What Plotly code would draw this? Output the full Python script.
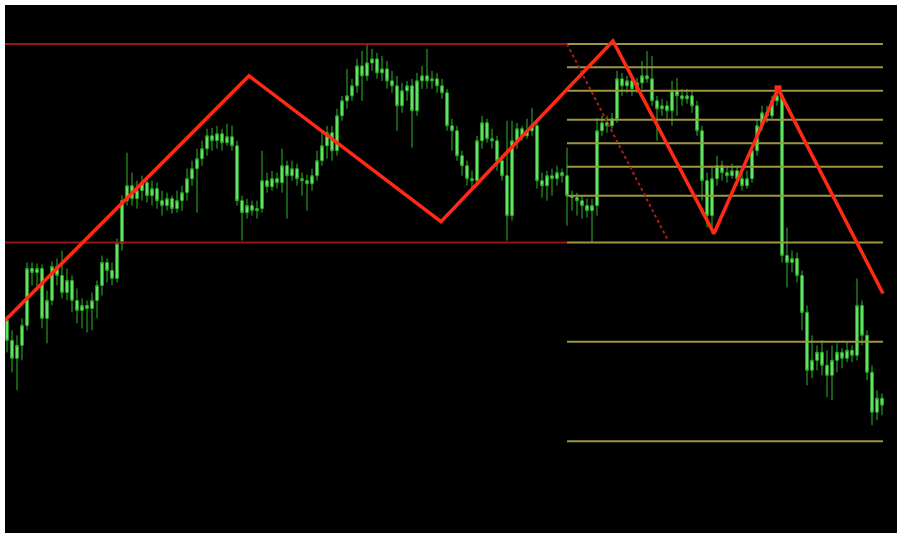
import plotly.graph_objects as go

# ---- candle data (arbitrary price units) ----
opens = [220,200,182,195,215,272,268,272,222,240,274,265,248,260,240,230,235,232,240,255,
         278,270,262,297,340,355,342,350,358,345,352,340,335,342,332,340,348,362,372,382,
         392,405,400,407,398,404,395,340,328,335,330,332,360,354,362,358,375,365,372,362,
         360,357,365,380,395,408,390,425,440,445,455,475,465,478,482,468,472,460,455,435,
         450,455,430,460,465,460,462,455,448,415,410,385,375,362,360,400,418,402,400,380,
         365,325,400,412,405,410,415,360,355,365,362,368,365,345,343,340,335,330,335,410,
         418,415,422,462,455,460,452,458,465,462,440,432,435,430,450,445,442,445,435,410,
         360,325,362,375,368,365,370,362,355,362,390,415,428,425,440,445,285,278,282,265,
         228,170,180,188,175,165,180,188,182,190,185,235,205,168,128,142]
closes = [200,182,195,215,272,268,272,222,240,274,265,248,260,240,230,235,232,240,255,278,
          270,262,297,340,355,342,350,358,345,352,340,335,342,332,340,348,362,372,382,392,
          405,400,407,398,404,395,340,328,335,330,332,360,354,362,358,375,365,372,362,360,
          357,365,380,395,408,390,425,440,445,455,475,465,478,482,468,472,460,455,435,450,
          455,430,460,465,460,462,455,448,415,410,385,375,362,360,400,418,402,400,380,365,
          325,400,412,405,410,415,360,355,365,362,368,365,345,343,340,335,330,335,410,418,
          415,422,462,455,460,452,458,465,462,440,432,435,430,450,445,442,445,435,410,360,
          325,362,375,368,365,370,362,355,362,390,415,428,425,440,445,285,278,282,265,228,
          170,180,188,175,165,180,188,182,190,185,235,205,168,128,142,135]
highs = [225,210,205,222,278,278,277,276,250,279,282,290,272,265,252,242,240,248,260,285,
         282,278,302,345,388,368,360,365,362,360,358,350,348,345,350,355,372,380,392,400,
         412,413,415,412,417,415,400,345,342,340,340,390,368,370,368,392,380,380,377,368,
         366,372,390,410,415,415,432,445,472,462,482,490,497,492,488,485,480,470,465,458,
         460,462,468,475,492,470,468,462,452,422,415,390,380,370,405,425,422,412,405,385,
         420,420,418,415,422,433,420,368,370,372,375,372,393,350,348,345,342,342,423,425,
         425,428,470,468,465,465,463,480,490,485,445,442,440,460,463,452,452,450,440,415,
         368,375,385,380,375,377,375,368,370,395,422,435,435,445,453,448,313,290,288,270,
         235,205,195,200,190,195,197,192,198,195,262,240,210,175,150,147]
lows = [188,168,150,180,210,255,250,212,197,235,255,242,240,228,217,212,208,210,222,245,
        258,255,258,290,335,335,332,340,338,335,332,325,330,327,328,330,340,355,328,375,
        385,390,392,390,395,390,335,300,322,325,322,328,348,350,352,348,322,360,355,345,
        330,350,360,375,382,380,385,420,432,440,448,440,460,470,462,460,452,448,410,428,
        440,393,425,452,452,452,448,442,410,390,380,365,355,352,355,392,398,392,370,360,
        300,320,392,400,402,405,352,343,340,345,355,358,315,330,325,322,323,298,325,405,
        408,412,418,445,448,445,448,452,458,435,400,425,422,415,425,435,437,428,405,340,
        313,307,355,360,358,362,355,350,352,358,385,410,418,422,435,278,253,268,258,210,
        155,162,170,165,143,140,168,172,178,178,180,195,160,115,120,125]
bars = list(range(len(opens)))

# ---- zigzag vertices (bar position, price) ----
zz_x = [-0.4, 48.4, 86.8, 121.2, 141.4, 154.2, 175.2]
zz_y = [220, 465, 319, 500, 307, 452, 247]

# ---- channel / fibonacci ----
chan_high = 497
chan_low = 298
chan_start, chan_end = -0.4, 112
fib_start, fib_end = 112, 175.2
fib_ratios = [0, 0.118, 0.236, 0.382, 0.5, 0.618, 0.764, 1, 1.5, 2]
diag_x = [112, 132]
diag_y = [497, 302]

fig = go.Figure()

fig.add_trace(go.Candlestick(
    x=bars, open=opens, high=highs, low=lows, close=closes,
    increasing=dict(line=dict(color="#2cb52c", width=1), fillcolor="#7ef07e"),
    decreasing=dict(line=dict(color="#2cb52c", width=1), fillcolor="#7ef07e"),
    whiskerwidth=0, showlegend=False, hoverinfo="skip"))

# channel lines
for lvl in (chan_high, chan_low):
    fig.add_trace(go.Scatter(x=[chan_start, chan_end], y=[lvl, lvl], mode="lines",
                             line=dict(color="#9a1212", width=2), showlegend=False, hoverinfo="skip"))

# fib lines
rng = chan_high - chan_low
for r in fib_ratios:
    lvl = chan_high - r * rng
    fig.add_trace(go.Scatter(x=[fib_start, fib_end], y=[lvl, lvl], mode="lines",
                             line=dict(color="#9e9640", width=2), showlegend=False, hoverinfo="skip"))

# dotted diagonal
fig.add_trace(go.Scatter(x=diag_x, y=diag_y, mode="lines",
                         line=dict(color="#a8201c", width=2, dash="dot"), showlegend=False, hoverinfo="skip"))

# zigzag
fig.add_trace(go.Scatter(x=zz_x, y=zz_y, mode="lines",
                         line=dict(color="#ff2a14", width=3.5), showlegend=False, hoverinfo="skip"))
fig.add_trace(go.Scatter(x=[zz_x[5]], y=[zz_y[5]], mode="markers",
                         marker=dict(color="#ff2a14", size=7, symbol="square"),
                         showlegend=False, hoverinfo="skip"))

fig.update_layout(
    width=903, height=537,
    margin=dict(l=5, r=6, t=5, b=4),
    paper_bgcolor="white", plot_bgcolor="black",
    xaxis=dict(range=[-0.4, 178], showgrid=False, zeroline=False, showticklabels=False,
               rangeslider=dict(visible=False), fixedrange=True),
    yaxis=dict(range=[7, 536], showgrid=False, zeroline=False, showticklabels=False, fixedrange=True),
)

fig.write_html("out.html", config={"displayModeBar": False},
               post_script="document.body.style.margin='0';document.body.style.padding='0';document.body.style.overflow='hidden';")
